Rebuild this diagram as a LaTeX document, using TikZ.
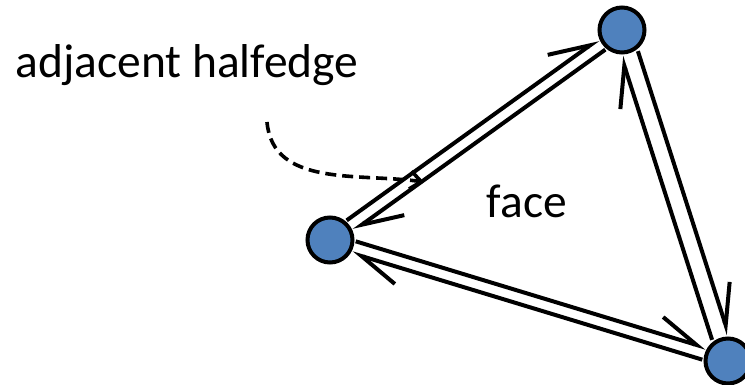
\documentclass[tikz,border=0pt]{standalone}
\usepackage{fontspec}
\setmainfont{Carlito}
\usetikzlibrary{arrows.meta, calc}
\definecolor{VertexBlue}{RGB}{79,129,189}

% one halfedge: from #1 to #2, shifted #3 to its left
\newcommand{\halfedge}[3]{%
  \draw[half] ($(#1)!25pt!(#2)!#3!90:(#2)$) -- ($(#2)!25pt!(#1)!#3!-90:(#1)$);}

\begin{document}
\begin{tikzpicture}[
  x=1pt, y=1pt,
  font=\fontsize{47.5}{56}\selectfont,
  vertex/.style={circle, draw=black, line width=4pt, fill=VertexBlue,
                 minimum size=45pt, inner sep=0pt},
  half/.style={line width=4pt,
               -{Straight Barb[left, length=40pt, width=34pt]}},
  pointer/.style={line width=3.6pt, dash pattern=on 11pt off 6pt,
                  -{Straight Barb[length=11pt, width=18pt]}},
]
\useasboundingbox (0,0) rectangle (745,385);

% vertices
\node[vertex] (v1) at (622,355) {};
\node[vertex] (v2) at (330,145) {};
\node[vertex] (v3) at (728,24) {};

% halfedge pairs
\halfedge{v1}{v2}{6.2pt}
\halfedge{v2}{v1}{6.2pt}
\halfedge{v2}{v3}{6.2pt}
\halfedge{v3}{v2}{6.2pt}
\halfedge{v3}{v1}{8.7pt}
\halfedge{v1}{v3}{8.7pt}

% labels
\node[anchor=base] (lbl) at (187,307) {adjacent halfedge};
\node[anchor=base] (fc) at (527,167) {face};

% pointer to the halfedge
\coordinate (ptail) at (267,263);
\coordinate (phead) at (424,203);
\draw[pointer] (ptail) to[out=-85, in=172] (phead);

\end{tikzpicture}
\end{document}
